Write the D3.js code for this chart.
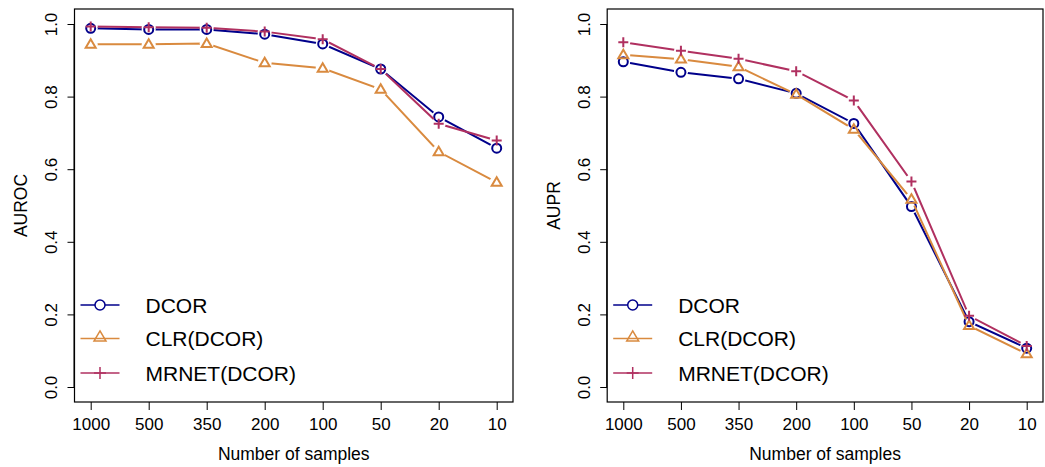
<!DOCTYPE html>
<html>
<head>
<meta charset="utf-8">
<script src="https://cdn.jsdelivr.net/npm/d3@7"></script>
<style>
  body { margin: 0; background: #fff; }
  svg { display: block; font-family: "Liberation Sans", Arial, sans-serif; }
</style>
</head>
<body>
<div id="chart"></div>
<script>
// sample sizes on the x axis (categorical, decreasing)
const sampleSizes = ["1000", "500", "350", "200", "100", "50", "20", "10"];
const seriesNames = ["DCOR", "CLR(DCOR)", "MRNET(DCOR)"];
const yTicks = [0, 0.2, 0.4, 0.6, 0.8, 1.0];

// AUROC values
const aurocDcor = [0.988, 0.985, 0.985, 0.972, 0.945, 0.876, 0.744, 0.658];
const aurocClr = [0.944, 0.944, 0.946, 0.893, 0.878, 0.820, 0.648, 0.564];
const aurocMrnet = [0.993, 0.991, 0.990, 0.979, 0.958, 0.876, 0.725, 0.679];

// AUPR values
const auprDcor = [0.896, 0.867, 0.849, 0.809, 0.726, 0.497, 0.180, 0.107];
const auprClr = [0.915, 0.903, 0.882, 0.806, 0.710, 0.517, 0.169, 0.091];
const auprMrnet = [0.950, 0.926, 0.904, 0.870, 0.789, 0.566, 0.196, 0.113];

const colors = ["#00008B", "#D98A3F", "#B03060"];
const shapes = ["circle", "triangle", "plus"];

const svg = d3
  .select("#chart")
  .append("svg")
  .attr("width", 1045)
  .attr("height", 467);

const defs = svg.append("defs");

function drawMarker(g, shape, x, y, size, color, sw) {
  if (shape === "circle") {
    g.append("circle")
      .attr("cx", x)
      .attr("cy", y)
      .attr("r", size * 0.9)
      .attr("fill", "none")
      .attr("stroke", color)
      .attr("stroke-width", sw);
  } else if (shape === "triangle") {
    const h = size * 1.7;
    g.append("path")
      .attr(
        "d",
        `M${x},${y - h * 0.6}L${x + size},${y + h * 0.4}L${x - size},${y + h * 0.4}Z`
      )
      .attr("fill", "none")
      .attr("stroke", color)
      .attr("stroke-width", sw)
      .attr("stroke-linejoin", "miter");
  } else {
    g.append("path")
      .attr("d", `M${x - size},${y}H${x + size}M${x},${y - size}V${y + size}`)
      .attr("stroke", color)
      .attr("stroke-width", sw);
  }
}

function drawPanel(id, opts) {
  const { box, xRange, yLabel, series } = opts;
  const g = svg.append("g").attr("class", "panel-" + id);

  const x = d3.scalePoint().domain(sampleSizes).range(xRange);
  const y = d3.scaleLinear().domain([0, 1]).range([387, 24]);

  // y axis
  const yAxis = g
    .append("g")
    .attr("transform", `translate(${box.left},0)`)
    .call(
      d3
        .axisLeft(y)
        .tickValues(yTicks)
        .tickFormat(d3.format(".1f"))
        .tickSize(7)
        .tickSizeOuter(0)
    );
  yAxis.select(".domain").attr("d", `M-0.5,${y(0)}V${y(1)}`);
  yAxis.selectAll("line").attr("stroke", "#000");
  yAxis
    .selectAll("text")
    .attr("x", 0)
    .attr("dy", 0)
    .attr("text-anchor", "middle")
    .attr("transform", "translate(-17.5,0) rotate(-90)")
    .style("font-size", "17px")
    .attr("fill", "#000");

  // x axis
  const xAxis = g
    .append("g")
    .attr("transform", `translate(0,${box.bottom})`)
    .call(d3.axisBottom(x).tickSize(8).tickSizeOuter(0));
  xAxis.select(".domain").remove();
  xAxis
    .selectAll("text")
    .attr("y", 27.5)
    .attr("dy", 0)
    .style("font-size", "17px")
    .attr("fill", "#000");

  // box
  g.append("rect")
    .attr("x", box.left)
    .attr("y", box.top)
    .attr("width", box.right - box.left)
    .attr("height", box.bottom - box.top)
    .attr("fill", "none")
    .attr("stroke", "#000")
    .attr("stroke-width", 1.2);

  // axis titles
  g.append("text")
    .attr("x", (box.left + box.right) / 2)
    .attr("y", 460)
    .attr("text-anchor", "middle")
    .style("font-size", "17.5px")
    .text("Number of samples");

  g.append("text")
    .attr("transform", `translate(${box.left - 47.5},${(box.top + box.bottom) / 2}) rotate(-90)`)
    .attr("text-anchor", "middle")
    .style("font-size", "17.5px")
    .text(yLabel);

  // lines, with gaps around the points like type = "b"
  const line = d3
    .line()
    .x((d, i) => x(sampleSizes[i]))
    .y((d) => y(d));

  series.forEach((vals, s) => {
    const maskId = `gap-${id}-${s}`;
    const mask = defs
      .append("mask")
      .attr("id", maskId)
      .attr("maskUnits", "userSpaceOnUse")
      .attr("x", 0)
      .attr("y", 0)
      .attr("width", 1045)
      .attr("height", 467);
    mask
      .append("rect")
      .attr("width", 1045)
      .attr("height", 467)
      .attr("fill", "#fff");
    mask
      .selectAll("circle")
      .data(vals)
      .join("circle")
      .attr("cx", (d, i) => x(sampleSizes[i]))
      .attr("cy", (d) => y(d))
      .attr("r", 7)
      .attr("fill", "#000");

    g.append("path")
      .datum(vals)
      .attr("d", line)
      .attr("fill", "none")
      .attr("stroke", colors[s])
      .attr("stroke-width", 2)
      .attr("mask", `url(#${maskId})`);

    const pts = g.append("g");
    vals.forEach((v, i) => {
      drawMarker(pts, shapes[s], x(sampleSizes[i]), y(v), 5, colors[s], 2);
    });
  });

  // legend
  const leg = g.append("g");
  const rowY = [305, 338.5, 373];
  seriesNames.forEach((name, s) => {
    const lx = box.left + 6;
    leg
      .append("line")
      .attr("x1", lx)
      .attr("x2", lx + 39)
      .attr("y1", rowY[s])
      .attr("y2", rowY[s])
      .attr("stroke", colors[s])
      .attr("stroke-width", 1.4);
    if (shapes[s] === "circle") {
      leg
        .append("circle")
        .attr("cx", lx + 19.5)
        .attr("cy", rowY[s])
        .attr("r", 5)
        .attr("fill", "#fff")
        .attr("stroke", colors[s])
        .attr("stroke-width", 1.5);
    } else {
      drawMarker(leg, shapes[s], lx + 19.5, rowY[s] + (shapes[s] === "triangle" ? -1.5 : 0), 6, colors[s], 1.5);
    }
    leg
      .append("text")
      .attr("x", lx + 65)
      .attr("y", rowY[s] + 7.5)
      .style("font-size", "21px")
      .text(name);
  });
}

drawPanel("auroc", {
  box: { left: 74.5, right: 513, top: 9, bottom: 402 },
  xRange: [90.7, 496.7],
  yLabel: "AUROC",
  series: [aurocDcor, aurocClr, aurocMrnet],
});

drawPanel("aupr", {
  box: { left: 607.2, right: 1043, top: 9, bottom: 402 },
  xRange: [623.3, 1026.7],
  yLabel: "AUPR",
  series: [auprDcor, auprClr, auprMrnet],
});
</script>
</body>
</html>
